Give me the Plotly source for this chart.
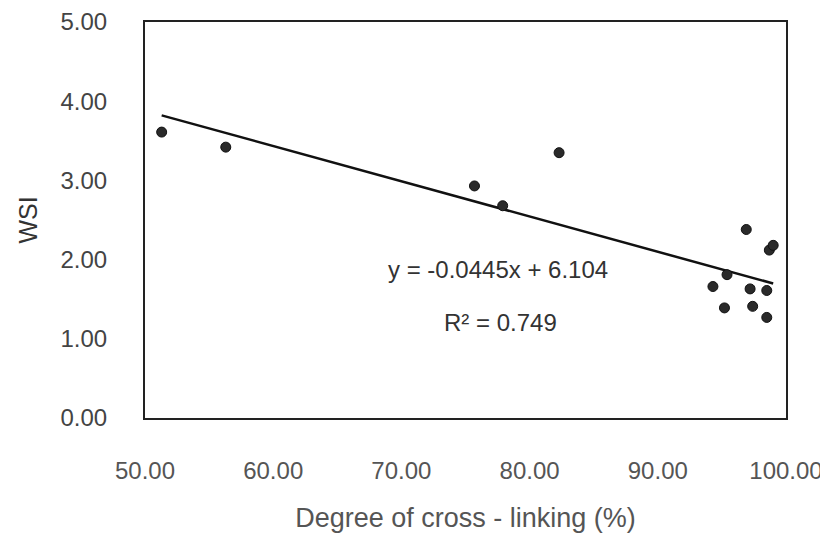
import plotly.graph_objects as go

# Data (Degree of cross-linking %, WSI)
crosslinking = [51.3, 56.3, 75.7, 77.9, 82.3, 96.9, 98.7, 99.0, 95.4, 94.3, 97.2, 98.5, 95.2, 97.4, 98.5]
wsi = [3.61, 3.42, 2.93, 2.68, 3.35, 2.38, 2.12, 2.18, 1.81, 1.66, 1.63, 1.61, 1.39, 1.41, 1.27]

# Trendline coefficients as printed on the chart
slope = -0.0445
intercept = 6.104
r_squared = 0.749

x_ticks = [50, 60, 70, 80, 90, 100]
x_tick_labels = ["50.00", "60.00", "70.00", "80.00", "90.00", "100.00"]
y_ticks = [0, 1, 2, 3, 4, 5]
y_tick_labels = ["0.00", "1.00", "2.00", "3.00", "4.00", "5.00"]

FONT = "Liberation Sans, Arial, sans-serif"

line_x = [min(crosslinking), max(crosslinking)]
line_y = [slope * v + intercept for v in line_x]

fig = go.Figure()
fig.add_trace(go.Scatter(
    x=line_x, y=line_y, mode="lines",
    line=dict(color="#111111", width=2.5), hoverinfo="skip", showlegend=False,
))
fig.add_trace(go.Scatter(
    x=crosslinking, y=wsi, mode="markers",
    marker=dict(color="#2a2a2a", size=10, line=dict(color="#111111", width=1)),
    showlegend=False,
))

fig.add_annotation(
    x=0.551, y=0.376, xref="paper", yref="paper", xanchor="center", yanchor="middle",
    text=f"y = {slope}x + {intercept}", showarrow=False,
    font=dict(family=FONT, size=24, color="#333333"),
)
fig.add_annotation(
    x=0.554, y=0.242, xref="paper", yref="paper", xanchor="center", yanchor="middle",
    text=f"R² = {r_squared}", showarrow=False,
    font=dict(family=FONT, size=24, color="#333333"),
)

fig.update_layout(
    width=828, height=550,
    margin=dict(l=137, r=50, t=14, b=140),
    paper_bgcolor="white", plot_bgcolor="white",
    font=dict(family=FONT, color="#444444"),
    xaxis=dict(
        range=[50, 100], tickvals=x_ticks, ticktext=x_tick_labels,
        showgrid=False, zeroline=False, showline=True, mirror=True,
        linecolor="#222222", linewidth=2, ticks="", automargin=False,
        tickfont=dict(family=FONT, size=24, color="#555555"),
        ticklabelstandoff=30,
        title=dict(text="Degree of cross - linking (%)",
                   font=dict(family=FONT, size=27, color="#555555"), standoff=25),
    ),
    yaxis=dict(
        range=[0, 5], tickvals=y_ticks, ticktext=y_tick_labels,
        showgrid=False, zeroline=False, showline=True, mirror=True,
        linecolor="#222222", linewidth=2, ticks="", automargin=False,
        tickfont=dict(family=FONT, size=24, color="#444444"),
        ticklabelstandoff=31,
        title=dict(text="WSI", font=dict(family=FONT, size=25, color="#333333"), standoff=16),
    ),
)

fig.write_html("out.html")
